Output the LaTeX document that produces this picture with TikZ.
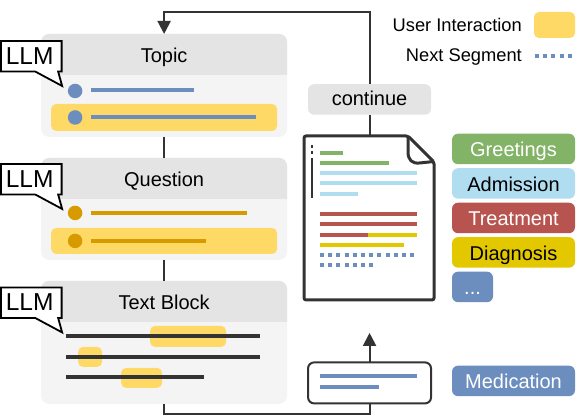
\documentclass[tikz,border=0pt]{standalone}
\usepackage{fontspec}
\setmainfont{Liberation Sans}
\usepackage{xcolor}
\usetikzlibrary{arrows.meta,positioning}
\definecolor{inkdark}{HTML}{333333}
\definecolor{headgray}{HTML}{E4E4E4}
\definecolor{bodygray}{HTML}{F4F4F5}
\definecolor{hiyellow}{HTML}{FFD966}
\definecolor{segblue}{HTML}{6C8EBF}
\definecolor{segorange}{HTML}{D79B00}
\definecolor{seggreen}{HTML}{82B366}
\definecolor{seglight}{HTML}{B1DDF0}
\definecolor{segred}{HTML}{B85450}
\definecolor{segyellow}{HTML}{E3C800}
\newcommand{\llmtag}[2]{%
  \draw[llmline] (0.75,#2) -- (61.5,#2) -- (61.5,#2+30.5) -- (58,#2+30.5) -- (62,#2+45) -- (35,#2+30.5) -- (0.75,#2+30.5) -- cycle;
  \node[font=\fontsize{24.5}{26}\selectfont, inner sep=0pt] (#1) at (29.5,#2+15) {LLM};}
\begin{document}
\begin{tikzpicture}[
  x=1pt, y=-1pt,
  node distance=4pt and 12pt,
  panel/.style={fill=bodygray, rounded corners=8pt, minimum width=246pt, anchor=north west, inner sep=0pt, outer sep=0pt},
  headfill/.style={fill=headgray},
  title/.style={font=\fontsize{20}{22}\selectfont, inner sep=0pt, text height=14.5pt, text depth=0pt},
  strip/.style={fill=hiyellow, rounded corners=5pt},
  tag/.style={rounded corners=6pt, minimum width=123pt, minimum height=30.5pt, inner sep=0pt, outer sep=0pt, font=\fontsize{20}{22}\selectfont, text height=19pt, text depth=3.5pt},
  legend/.style={font=\fontsize{18.3}{20}\selectfont, inner sep=0pt, text height=13pt, text depth=0pt},
  seg/.style={line width=4pt},
  dotseg/.style={line width=4pt, segblue, dash pattern=on 4pt off 4.2pt},
  bar/.style={line width=4pt, inkdark},
  dot/.style={circle, minimum size=14.5pt, inner sep=0pt},
  conn/.style={line width=2pt, inkdark},
  arr/.style={conn, -{Triangle[width=13pt,length=13pt]}},
  llmline/.style={line width=1.8pt, black, fill=white, line join=miter},
  docline/.style={line width=3pt, inkdark, rounded corners=2pt}
]
% panels on the left
\node[panel, minimum height=103pt] (topic) at (41,34) {};
\path[headfill] (41,75) [rounded corners=8pt] -- (41,34) -- (287,34) [sharp corners] -- (287,75) -- cycle;
\node[title] (topictitle) at (164,55) {Topic};
\node[panel, minimum height=102pt] (question) at (41,158) {};
\path[headfill] (41,199) [rounded corners=8pt] -- (41,158) -- (287,158) [sharp corners] -- (287,199) -- cycle;
\node[title] (questiontitle) at (164,179) {Question};
\node[panel, minimum height=123pt] (block) at (41,281) {};
\path[headfill] (41,322) [rounded corners=8pt] -- (41,281) -- (287,281) [sharp corners] -- (287,322) -- cycle;
\node[title] (blocktitle) at (164,302) {Text Block};
% topic content
\fill[strip] (51,104) rectangle (277,131);
\node[dot, fill=segblue] (topicdotA) at (75,91) {};
\node[dot, fill=segblue] (topicdotB) at (75,117.5) {};
\draw[seg, segblue] (91,90) -- (194,90);
\draw[seg, segblue] (91,117.5) -- (256,117.5);
% question content
\fill[strip] (51,228) rectangle (277,254);
\node[dot, fill=segorange] (questiondotA) at (75,213) {};
\node[dot, fill=segorange] (questiondotB) at (75,241) {};
\draw[seg, segorange] (91,213) -- (247,213);
\draw[seg, segorange] (91,241) -- (206,241);
% text block content
\fill[strip] (150,326) rectangle (226,347);
\fill[strip] (78,347) rectangle (102,367);
\fill[strip] (121,368) rectangle (162,388);
\draw[bar] (66,336.5) -- (260,336.5);
\draw[bar] (66,357) -- (260,357);
\draw[bar] (66,377.5) -- (204,377.5);
% document
\node[minimum width=130pt, minimum height=164pt, inner sep=0pt, outer sep=0pt] (doc) at (369.5,218) {};
\draw[docline] (304,136) -- (408,136) -- (434,162) -- (434,300) -- (304,300) -- cycle;
\draw[line width=3pt, inkdark, line join=round] (408,136) -- (408,152) .. controls (408,160) and (412,164) .. (420,163) -- (434,161.5);
\draw[line width=1.5pt, inkdark] (312,145) -- (312,148);
\draw[line width=1.5pt, inkdark] (312,151) -- (312,154);
\draw[line width=1.5pt, inkdark] (312,158) -- (312,198);
\draw[seg, seggreen] (320,153) -- (343,153);
\draw[seg, seggreen] (320,163) -- (389,163);
\draw[seg, seglight] (320,173) -- (417,173);
\draw[seg, seglight] (320,183.5) -- (417,183.5);
\draw[seg, seglight] (320,194) -- (358,194);
\draw[seg, segred] (320,214) -- (417,214);
\draw[seg, segred] (320,224.5) -- (417,224.5);
\draw[seg, segred] (320,235) -- (368,235);
\draw[seg, segyellow] (368,235) -- (417,235);
\draw[seg, segyellow] (320,245.5) -- (404,245.5);
\draw[dotseg] (320,255.5) -- (416,255.5);
\draw[dotseg] (320,265.5) -- (375,265.5);
% continue and snippet
\node[tag, fill=headgray, text height=17pt, text depth=4pt] (cont) at (369.5,99.5) {continue};
\node[draw=inkdark, line width=2pt, rounded corners=6pt, minimum width=123pt, minimum height=41pt, inner sep=0pt, outer sep=0pt] (snippet) at (369.5,383) {};
\draw[seg, segblue] (320,376.5) -- (417,376.5);
\draw[seg, segblue] (320,387) -- (379,387);
% connectors
\coordinate (turntop) at (164,12);
\coordinate (turnbottom) at (164,414);
\coordinate (arrowend) at (369.5,333);
\draw[conn] (topic.south) -- (question.north);
\draw[conn] (question.south) -- (block.north);
\draw[conn] (doc.north) -- (cont.south);
\draw[arr] (cont.north) |- (turntop) -- (topic.north);
\draw[conn] (block.south) -- (turnbottom) -| (snippet.south);
\draw[arr] (snippet.north) -- (arrowend);
% segment tags
\node[tag, fill=seggreen, text=white] (greet) at (513.5,149) {Greetings};
\node[tag, fill=seglight, below=of greet] (admit) {Admission};
\node[tag, fill=segred, text=white, below=of admit] (treat) {Treatment};
\node[tag, fill=segyellow, below=of treat] (diag) {Diagnosis};
\node[tag, fill=segblue, text=white, minimum width=41pt, below=of diag.south west, anchor=north west] (more) {...};
\node[tag, fill=segblue, text=white] (medi) at (513.5,381) {Medication};
% legend
\node[strip, minimum width=41pt, minimum height=26pt, inner sep=0pt, outer sep=0pt] (legbox) at (554.5,25) {};
\node[legend, left=of legbox] (legtext) {User Interaction};
\node[legend, anchor=east] (legnext) at (legtext.east |- 0,55) {Next Segment};
\draw[dotseg] (535,56) -- (575,56);
% callouts
\llmtag{llmtopic}{41}
\llmtag{llmquestion}{164}
\llmtag{llmblock}{287.5}
\useasboundingbox (0,0) rectangle (583,419);
\end{tikzpicture}
\end{document}
